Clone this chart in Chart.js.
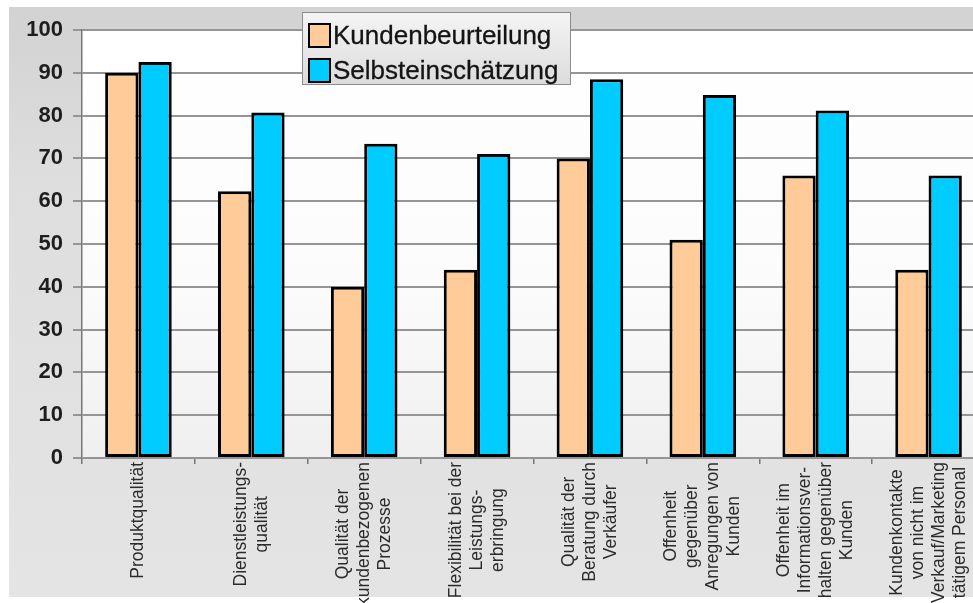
<!DOCTYPE html>
<html>
<head>
<meta charset="utf-8">
<script src="https://cdn.jsdelivr.net/npm/chart.js@4"></script>
<style>
  html, body { margin: 0; padding: 0; background: #fff; overflow: hidden; }
  #wrap { position: relative; width: 973px; height: 603px; overflow: hidden; }
  #legend {
    position: absolute; left: 302px; top: 12px; width: 269px; height: 73px;
    border: 1px solid #8c8c8c; box-sizing: border-box;
    background: linear-gradient(#f4f4f4, #dcdcdc);
    font-family: "Liberation Sans", Arial, sans-serif; font-size: 26px; color: #141414;
    -webkit-text-stroke: 0.3px #141414;
  }
  .item { position: absolute; left: 5px; height: 28px; display: flex; align-items: center; }
  .item span.box { width: 19px; height: 21px; border: 2px solid #000; margin-right: 2px; }
</style>
</head>
<body>
<div id="wrap">
  <canvas id="chart" width="985" height="603"></canvas>
  <div id="legend"></div>
</div>
<script>
// categories (one entry per group, lines as printed under the axis)
var categories = [
  ['Produktqualität'],
  ['Dienstleistungs-', 'qualität'],
  ['Qualität der', 'kundenbezogenen', 'Prozesse'],
  ['Flexibilität bei der', 'Leistungs-', 'erbringung'],
  ['Qualität der', 'Beratung durch', 'Verkäufer'],
  ['Offenheit', 'gegenüber', 'Anregungen von', 'Kunden'],
  ['Offenheit im', 'Informationsver-', 'halten gegenüber', 'Kunden'],
  ['Kundenkontakte', 'von nicht im', 'Verkauf/Marketing', 'tätigem Personal']
];
var seriesNames = ['Kundenbeurteilung', 'Selbsteinschätzung'];
var kundenbeurteilung = [90, 62.3, 40, 44, 70, 51, 66, 44];
var selbsteinschaetzung = [92.5, 80.7, 73.4, 71, 88.5, 84.8, 81.2, 66];
var seriesColors = ['#ffcc99', '#00ccff'];

// legend (overlaps the top of the plot like the original)
var legendEl = document.getElementById('legend');
seriesNames.forEach(function (name, i) {
  var row = document.createElement('div');
  row.className = 'item';
  row.style.top = (i === 0 ? 8 : 43) + 'px';
  row.innerHTML = '<span class="box" style="background:' + seriesColors[i] + '"></span>' + name;
  legendEl.appendChild(row);
});

var background = {
  id: 'background',
  beforeDraw: function (chart) {
    var ctx = chart.ctx, a = chart.chartArea;
    ctx.save();
    ctx.fillStyle = '#ffffff';
    ctx.fillRect(0, 0, chart.width, chart.height);
    var g = ctx.createLinearGradient(0, 7, 0, 597);
    g.addColorStop(0, '#d2d2d2');
    g.addColorStop(0.3, '#dedede');
    g.addColorStop(1, '#e4e4e4');
    ctx.fillStyle = g;
    ctx.fillRect(9, 7, chart.width - 9, 590);
    var p = ctx.createLinearGradient(0, a.top, 0, a.bottom);
    p.addColorStop(0, '#ffffff');
    p.addColorStop(0.6, '#fbfbfb');
    p.addColorStop(1, '#efefef');
    ctx.fillStyle = p;
    ctx.fillRect(a.left, a.top, a.right - a.left, a.bottom - a.top);
    ctx.restore();
  }
};

// rotated, centred multi-line category labels
var xLabels = {
  id: 'xLabels',
  afterDraw: function (chart) {
    var ctx = chart.ctx, xs = chart.scales.x;
    var lineH = 21;
    ctx.save();
    ctx.font = '17.5px "Liberation Sans", Arial, sans-serif';
    ctx.fillStyle = '#2b2b2b';
    ctx.textAlign = 'center';
    ctx.textBaseline = 'middle';
    categories.forEach(function (lines, i) {
      var maxW = 0;
      lines.forEach(function (l) { maxW = Math.max(maxW, ctx.measureText(l).width); });
      var x = xs.getPixelForValue(i);
      var y = chart.chartArea.bottom + 4 + maxW / 2;
      ctx.save();
      ctx.translate(x, y);
      ctx.rotate(-Math.PI / 2);
      lines.forEach(function (l, j) {
        ctx.fillText(l, 0, (j - (lines.length - 1) / 2) * lineH);
      });
      ctx.restore();
    });
    ctx.restore();
  }
};

new Chart(document.getElementById('chart'), {
  type: 'bar',
  data: {
    labels: categories.map(function (c) { return c.join(' '); }),
    datasets: [
      {
        label: seriesNames[0],
        data: kundenbeurteilung,
        backgroundColor: seriesColors[0],
        borderColor: '#000',
        borderWidth: 3,
        borderSkipped: false
      },
      {
        label: seriesNames[1],
        data: selbsteinschaetzung,
        backgroundColor: seriesColors[1],
        borderColor: '#000',
        borderWidth: 3,
        borderSkipped: false
      }
    ]
  },
  options: {
    responsive: false,
    animation: false,
    layout: { padding: { top: 30, left: 0, right: 0, bottom: 0 } },
    plugins: {
      legend: { display: false },
      tooltip: { enabled: false }
    },
    datasets: {
      bar: { categoryPercentage: 0.59, barPercentage: 1 }
    },
    scales: {
      x: {
        ticks: { display: false },
        grid: { drawOnChartArea: false, tickLength: 6, color: '#777', lineWidth: 1.5 },
        border: { display: false },
        afterFit: function (scale) { scale.height = 145; }
      },
      y: {
        min: 0,
        max: 100,
        ticks: {
          stepSize: 10,
          padding: 10,
          color: '#1e1e1e',
          font: { family: '"Liberation Sans", Arial, sans-serif', size: 22, weight: 'bold' }
        },
        grid: { color: '#959595', lineWidth: 2, tickLength: 9 },
        border: { color: '#777', width: 1.5 },
        afterFit: function (scale) { scale.width = 82; }
      }
    }
  },
  plugins: [background, xLabels]
});
</script>
</body>
</html>
